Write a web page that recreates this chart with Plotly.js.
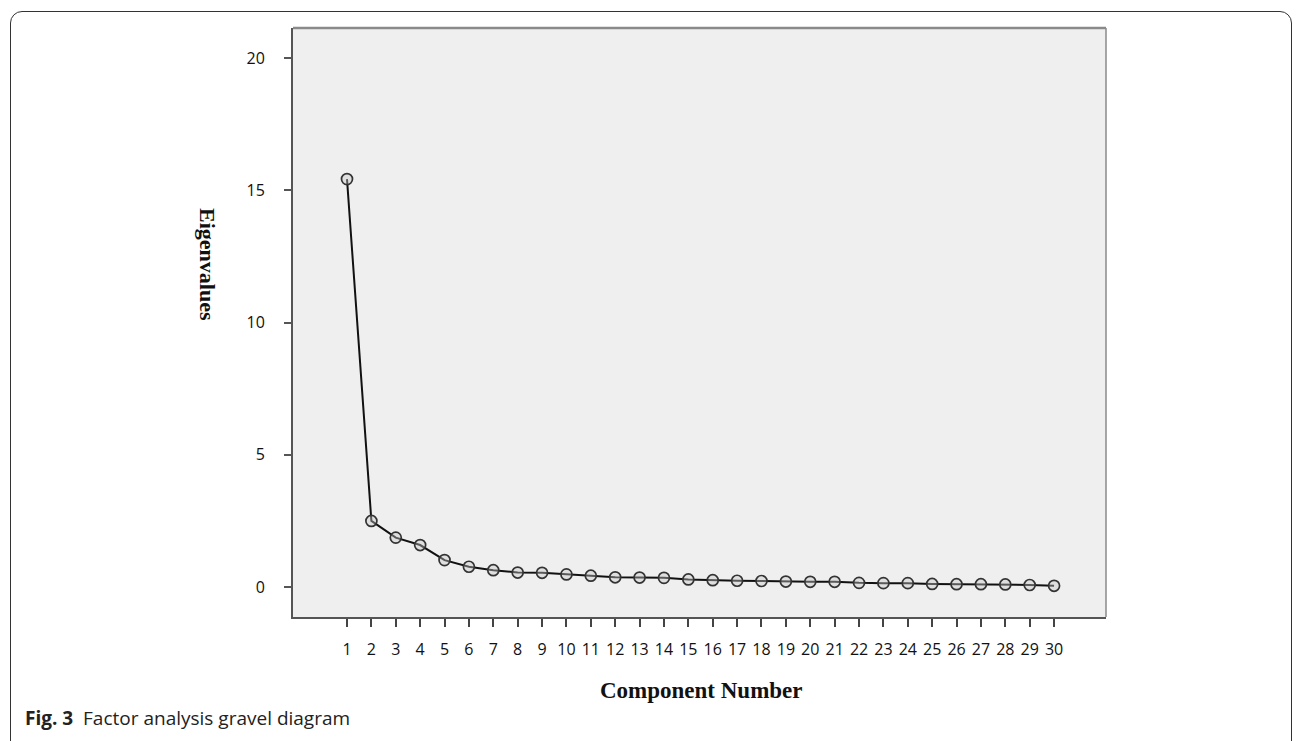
<!DOCTYPE html>
<html>
<head>
<meta charset="utf-8">
<script src="https://cdn.plot.ly/plotly-3.0.1.min.js"></script>
<style>
  html, body { margin: 0; padding: 0; background: #ffffff; }
  #wrap { position: relative; width: 1296px; height: 741px; overflow: hidden; }
  #chart { width: 1296px; height: 741px; }
  #frame { position: absolute; left: 10px; top: 11px; width: 1282px; height: 760px;
           border: 1.5px solid #333; border-radius: 12px; pointer-events: none; box-sizing: border-box; }
</style>
</head>
<body>
<div id="wrap">
  <div id="chart"></div>
  <div id="frame"></div>
</div>
<script>
const componentNumbers = [1,2,3,4,5,6,7,8,9,10,11,12,13,14,15,16,17,18,19,20,21,22,23,24,25,26,27,28,29,30];
const eigenvalues = [15.42, 2.50, 1.87, 1.59, 1.02, 0.77, 0.64, 0.55, 0.54, 0.48, 0.43, 0.37, 0.36, 0.35, 0.29,
                     0.26, 0.24, 0.23, 0.21, 0.20, 0.20, 0.16, 0.15, 0.15, 0.12, 0.11, 0.11, 0.10, 0.08, 0.05];
const yTicks = [0, 5, 10, 15, 20];
const xTitle = "Component Number";
const yTitle = "Eigenvalues";
const captionBold = "Fig. 3";
const captionText = "Factor analysis gravel diagram";

const W = 1296, H = 741;
const L = 293, R = 1106, T = 28, B = 617;
const px = x => (x - L) / (R - L);
const py = y => 1 - (y - T) / (B - T);

const trace = {
  x: componentNumbers,
  y: eigenvalues,
  type: 'scatter',
  mode: 'lines+markers',
  line: { color: '#111111', width: 2 },
  marker: { symbol: 'circle', size: 11, color: 'rgba(200,200,200,0.4)', line: { color: '#333333', width: 1.7 } },
  hoverinfo: 'x+y'
};

const layout = {
  width: W, height: H,
  margin: { l: L, r: W - R, t: T, b: H - B, pad: 0 },
  paper_bgcolor: '#ffffff',
  plot_bgcolor: '#efefef',
  showlegend: false,
  font: { family: 'Open Sans, sans-serif', size: 16, color: '#111' },
  xaxis: {
    range: [-1.215, 32.13],
    tickmode: 'array',
    tickvals: componentNumbers,
    ticktext: componentNumbers.map(String),
    ticks: 'outside', ticklen: 8, tickwidth: 2, tickcolor: '#444',
    ticklabelstandoff: 9,
    showgrid: false, zeroline: false,
    showline: true, linecolor: '#555', linewidth: 2,
    tickfont: { family: 'Open Sans, sans-serif', size: 16, color: '#111' },
    fixedrange: true
  },
  yaxis: {
    range: [-1.13, 21.13],
    tickmode: 'array',
    tickvals: yTicks,
    ticktext: yTicks.map(String),
    ticks: 'outside', ticklen: 7, tickwidth: 2, tickcolor: '#555',
    ticklabelstandoff: 16,
    showgrid: false, zeroline: false,
    showline: true, linecolor: '#555', linewidth: 2,
    tickfont: { family: 'Open Sans, sans-serif', size: 16, color: '#111' },
    fixedrange: true
  },
  shapes: [
    { type: 'line', xref: 'paper', yref: 'paper', x0: 0, x1: 1, y0: 1, y1: 1,
      line: { color: '#8a8a8a', width: 2.5 }, layer: 'above' },
    { type: 'line', xref: 'paper', yref: 'paper', x0: 1, x1: 1, y0: 0, y1: 1,
      line: { color: '#8a8a8a', width: 1.5 }, layer: 'above' }
  ],
  annotations: [
    { text: '<b>' + xTitle + '</b>', xref: 'paper', yref: 'paper', x: px(701), y: py(690),
      xanchor: 'center', yanchor: 'middle', showarrow: false,
      font: { family: 'Liberation Serif, Times New Roman, serif', size: 23, color: '#111' } },
    { text: '<b>' + yTitle + '</b>', xref: 'paper', yref: 'paper', x: px(208), y: py(264),
      xanchor: 'center', yanchor: 'middle', showarrow: false, textangle: 90,
      font: { family: 'Liberation Serif, Times New Roman, serif', size: 22, color: '#111' } },
    { text: '<b>' + captionBold + '</b>  ' + captionText, xref: 'paper', yref: 'paper', x: px(23), y: py(718),
      xanchor: 'left', yanchor: 'middle', showarrow: false,
      font: { family: 'Open Sans, sans-serif', size: 19, color: '#222' } }
  ]
};

Plotly.newPlot('chart', [trace], layout, { displayModeBar: false, staticPlot: true });
</script>
</body>
</html>
